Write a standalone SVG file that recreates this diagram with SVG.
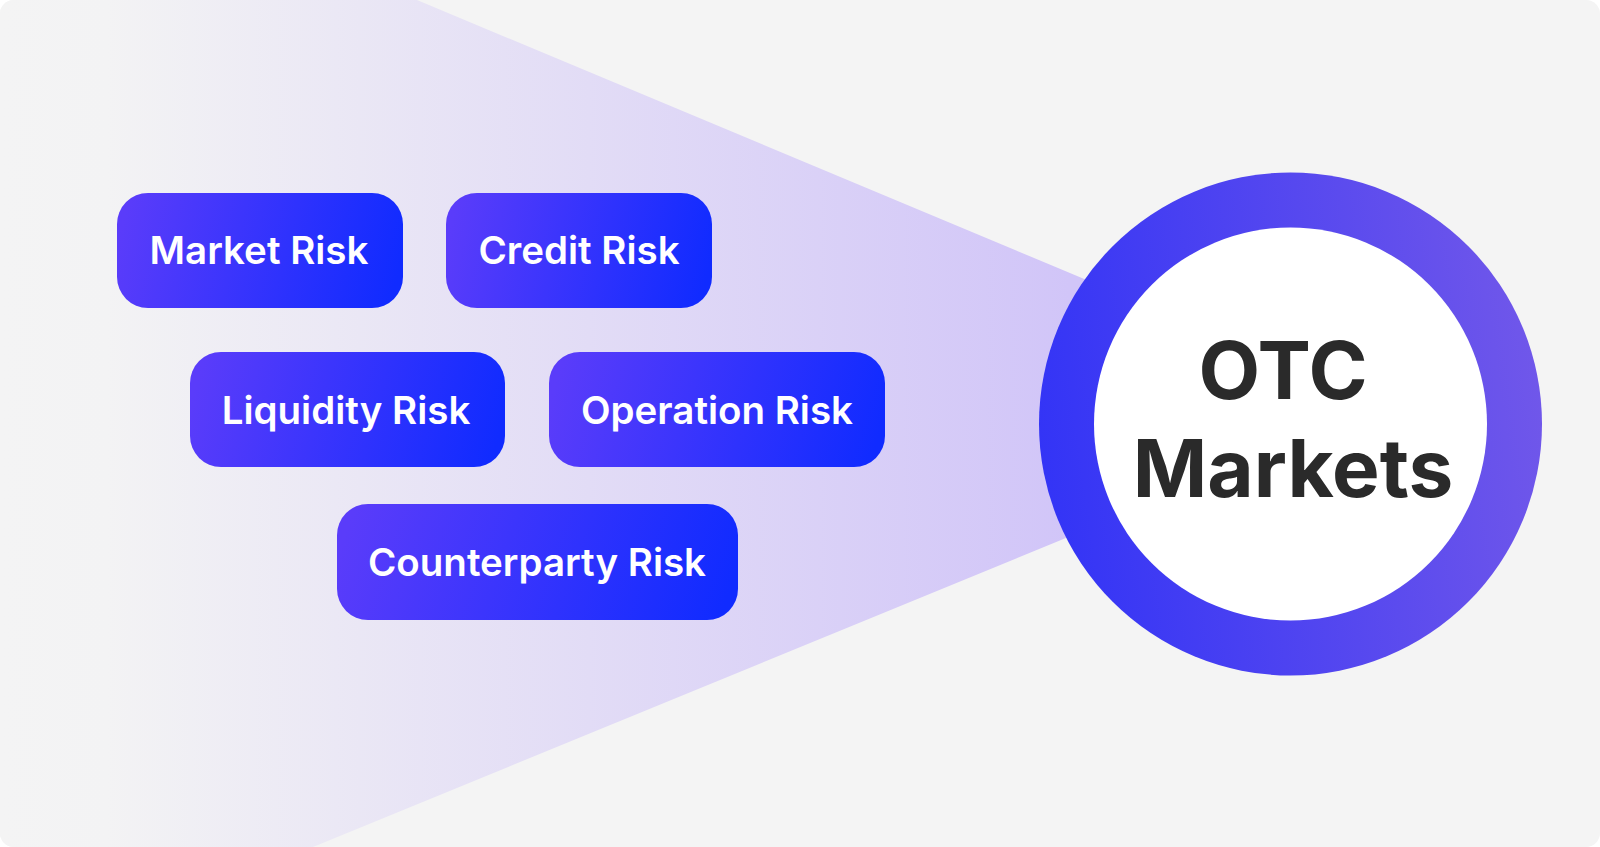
<svg xmlns="http://www.w3.org/2000/svg" width="1600" height="847" viewBox="0 0 1600 847">
  <defs>
    <clipPath id="cardClip">
      <rect x="0" y="0" width="1600" height="847" rx="14" ry="14"/>
    </clipPath>
    <linearGradient id="funnelGrad" gradientUnits="userSpaceOnUse" x1="0" y1="0" x2="1070" y2="0">
      <stop offset="0" stop-color="#f4f4f4"/>
      <stop offset="0.1" stop-color="#f3f3f4"/>
      <stop offset="1" stop-color="#d1c5f8"/>
    </linearGradient>
    <linearGradient id="pillGrad" x1="0" y1="0.45" x2="1" y2="0.55">
      <stop offset="0" stop-color="#5a3cfa"/>
      <stop offset="1" stop-color="#102bff"/>
    </linearGradient>
    <linearGradient id="ringGrad" gradientUnits="userSpaceOnUse" x1="1039" y1="460" x2="1542" y2="390">
      <stop offset="0" stop-color="#3334f6"/>
      <stop offset="1" stop-color="#7057ea"/>
    </linearGradient>
    <style>
      .pill { fill: url(#pillGrad); }
      .pillText { fill: #ffffff; font-family: Inter, "Liberation Sans", sans-serif; font-size: 38.5px; font-weight: 600; text-anchor: middle; }
      .hubText { fill: #2a2a2a; font-family: Inter, "Liberation Sans", sans-serif; font-size: 80px; font-weight: 700; text-anchor: middle; }
    </style>
  </defs>

  <rect x="0" y="0" width="1600" height="847" fill="#ffffff"/>
  <g id="background" clip-path="url(#cardClip)">
    <rect x="0" y="0" width="1600" height="847" fill="#f4f4f4"/>
    <polygon points="0,0 417,0 1290,365 1290,446 313,847 0,847" fill="url(#funnelGrad)"/>
  </g>

  <g id="connectors"></g>

  <g id="node-market-risk">
    <rect class="pill" x="117" y="193" width="286" height="115" rx="31"/>
    <text class="pillText" x="259" y="264">Market Risk</text>
  </g>
  <g id="node-credit-risk">
    <rect class="pill" x="446" y="193" width="266" height="115" rx="31"/>
    <text class="pillText" x="579" y="264">Credit Risk</text>
  </g>
  <g id="node-liquidity-risk">
    <rect class="pill" x="190" y="352" width="315" height="115" rx="31"/>
    <text class="pillText" x="346" y="424">Liquidity Risk</text>
  </g>
  <g id="node-operation-risk">
    <rect class="pill" x="549" y="352" width="336" height="115" rx="31"/>
    <text class="pillText" x="717" y="424">Operation Risk</text>
  </g>
  <g id="node-counterparty-risk">
    <rect class="pill" x="337" y="504" width="401" height="116" rx="31"/>
    <text class="pillText" x="537" y="576">Counterparty Risk</text>
  </g>

  <g id="node-otc-markets">
    <circle cx="1290.5" cy="424" r="251.5" fill="url(#ringGrad)"/>
    <circle cx="1290.5" cy="424" r="196.5" fill="#ffffff"/>
    <text class="hubText" x="1283" y="399">OTC</text>
    <text class="hubText" x="1293" y="497">Markets</text>
  </g>
</svg>
